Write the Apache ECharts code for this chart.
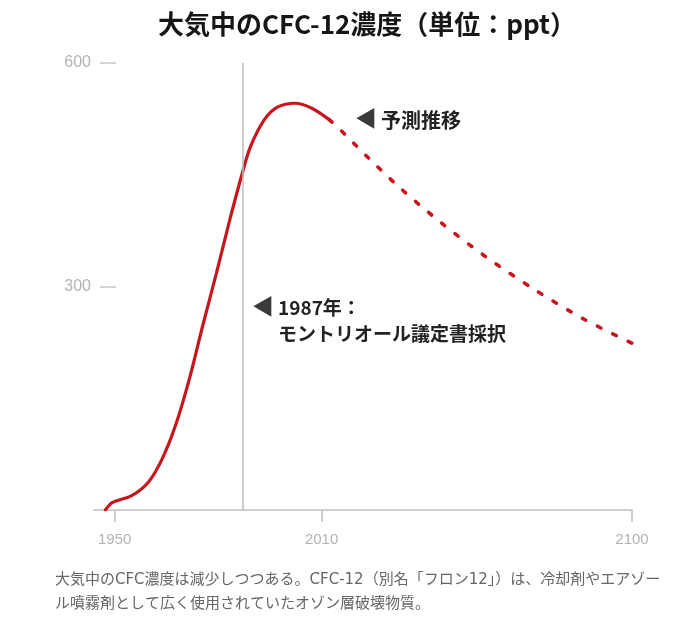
<!DOCTYPE html>
<html>
<head>
<meta charset="utf-8">
<script src="https://cdn.jsdelivr.net/npm/echarts@6/dist/echarts.min.js"></script>
<style>
	html, body { margin: 0; padding: 0; background: #fff; }
	#main { width: 682px; height: 618px; }
</style>
</head>
<body>
<div id="main"></div>
<script>
// 実測値（〜2012年）
var histYears = [1947.3, 1949.3, 1954.8, 1959.7, 1963.7, 1967.6, 1971.6, 1975.5, 1979.5, 1983.4, 1987, 1989.4, 1993.4, 1997.3, 2002.3, 2007.3, 2012.2];
var histValues = [0, 10, 19, 37, 68, 113, 175, 247, 318, 390, 452, 488, 524, 541, 546, 539, 524];
// 予測推移
var projYears = [2012.2, 2015.5, 2023.7, 2033.3, 2044.8, 2057.3, 2071.7, 2086.1, 2100];
var projValues = [524, 510, 472, 430, 385, 341, 296, 256, 224];
// 軸の目盛
var xTicks = [1950, 2010, 2100];
var yTicks = [300, 600];
var protocolYear = 1987;

var jpFont = '"Noto Sans CJK JP", sans-serif';
var numFont = '"Liberation Sans", Arial, sans-serif';
var red = '#c8161e';

function zip(xs, ys) {
	return xs.map(function (x, i) { return [x, ys[i]]; });
}

var myChart = echarts.init(document.getElementById('main'));
var option = {
	backgroundColor: '#fff',
	animation: false,
	title: {
		text: '大気中のCFC-12濃度（単位：ppt）',
		left: 153,
		top: 6,
		textStyle: {
			fontFamily: jpFont,
			fontSize: 26,
			fontWeight: 'bold',
			color: '#161616'
		}
	},
	grid: {
		left: 94,
		right: 50,
		top: 63,
		bottom: 108
	},
	xAxis: {
		type: 'value',
		min: 1944,
		max: 2100,
		splitLine: { show: false },
		axisLine: { lineStyle: { color: '#cfcfcf', width: 2 } },
		axisTick: {
			customValues: xTicks,
			length: 12,
			lineStyle: { color: '#cfcfcf', width: 2 }
		},
		axisLabel: {
			customValues: xTicks,
			formatter: function (v) { return String(v); },
			margin: 22,
			color: '#b3b3b3',
			fontSize: 15,
			fontFamily: numFont
		}
	},
	yAxis: {
		type: 'value',
		min: 0,
		max: 600,
		offset: -6,
		splitLine: { show: false },
		axisLine: { show: false },
		axisTick: {
			customValues: yTicks,
			inside: true,
			length: 16,
			lineStyle: { color: '#c8c8c8', width: 1.5 }
		},
		axisLabel: {
			customValues: yTicks,
			margin: 9,
			color: '#b3b3b3',
			fontSize: 16,
			fontFamily: numFont
		}
	},
	series: [
		{
			name: '実測',
			type: 'line',
			data: zip(histYears, histValues),
			smooth: 0.3,
			showSymbol: false,
			lineStyle: { color: red, width: 3.2, cap: 'round' },
			markLine: {
				silent: true,
				symbol: 'none',
				label: { show: false },
				lineStyle: { color: '#bdbdbd', width: 1.5, type: 'solid' },
				data: [[{ coord: [protocolYear, 0] }, { coord: [protocolYear, 600] }]]
			},
			z: 3
		},
		{
			name: '予測推移',
			type: 'line',
			data: zip(projYears, projValues),
			smooth: 0.3,
			showSymbol: false,
			lineStyle: { color: red, width: 3.6, type: [4, 13], cap: 'round' },
			z: 3
		}
	],
	graphic: [
		{ type: 'text', left: 355, top: 107, style: { text: '◀', font: '22px ' + jpFont, fill: '#3a3a3a' } },
		{ type: 'text', left: 381, top: 110, style: { text: '予測推移', font: 'bold 20px ' + jpFont, fill: '#222' } },
		{ type: 'text', left: 252, top: 295, style: { text: '◀', font: '22px ' + jpFont, fill: '#3a3a3a' } },
		{ type: 'text', left: 278, top: 298, style: { text: '1987年：', font: 'bold 19px ' + jpFont, fill: '#222' } },
		{ type: 'text', left: 278, top: 324, style: { text: 'モントリオール議定書採択', font: 'bold 19px ' + jpFont, fill: '#222' } },
		{
			type: 'text', left: 55, top: 568,
			style: {
				text: '大気中のCFC濃度は減少しつつある。CFC-12（別名「フロン12」）は、冷却剤やエアゾー\nル噴霧剤として広く使用されていたオゾン層破壊物質。',
				font: '15px "DejaVu Sans", ' + jpFont,
				fill: '#666',
				lineHeight: 24
			}
		}
	]
};
myChart.setOption(option);
</script>
</body>
</html>
